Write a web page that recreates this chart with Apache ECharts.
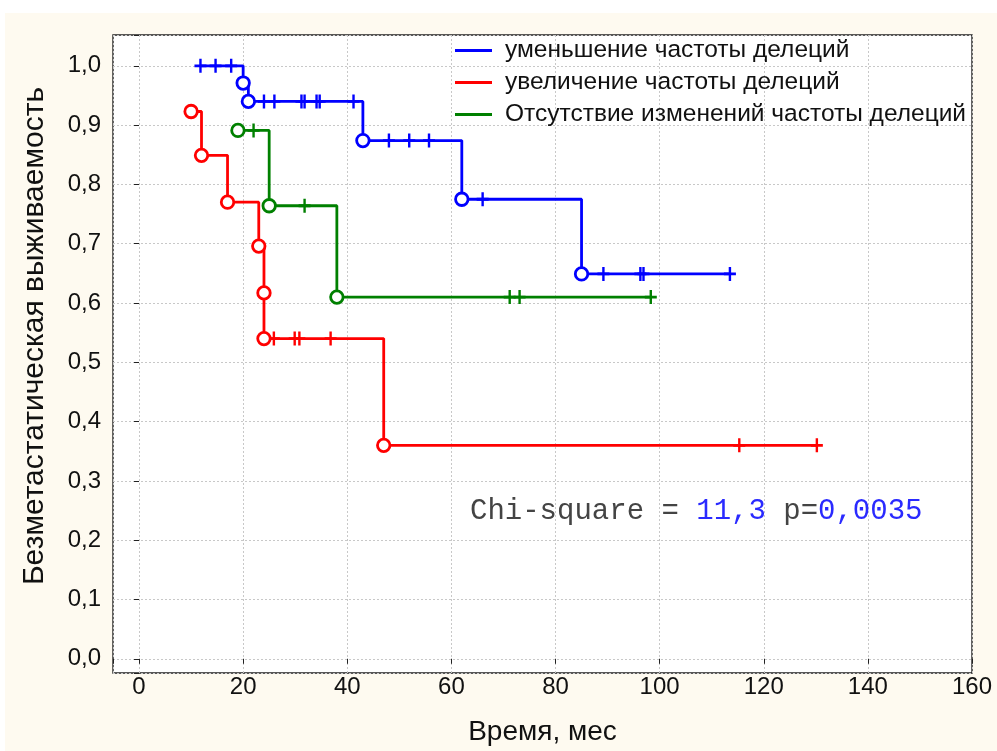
<!DOCTYPE html>
<html>
<head>
<meta charset="utf-8">
<script src="https://cdn.jsdelivr.net/npm/echarts@6/dist/echarts.min.js"></script>
<style>
html,body{margin:0;padding:0;background:#fff;}
#chart{width:997px;height:751px;}
</style>
</head>
<body>
<div id="chart"></div>
<script>
// ---- data ----
const seriesNames = ['уменьшение частоты делеций', 'увеличение частоты делеций', 'Отсутствие изменений частоты делеций'];
const seriesColors = ['#0000FF', '#FF0000', '#008000'];

// step curves [time, survival]
const blueLine = [[11.8,1.0],[20,0.971],[21,0.940],[43,0.874],[62,0.775],[85,0.649],[113.5,0.649]];
const redLine = [[10,0.923],[12,0.849],[17,0.770],[23,0.696],[24,0.617],[24,0.540],[47,0.360],[130.2,0.360]];
const greenLine = [[19,0.891],[25,0.764],[38,0.610],[98.3,0.610]];

// events (circles)
const blueEvents = [[20,0.971],[21,0.940],[43,0.874],[62,0.775],[85,0.649]];
const redEvents = [[10,0.923],[12,0.849],[17,0.770],[23,0.696],[24,0.617],[24,0.540],[47,0.360]];
const greenEvents = [[19,0.891],[25,0.764],[38,0.610]];

// censored (plus marks)
const blueCensored = [[11.8,1.0],[14.7,1.0],[17.7,1.0],
  [24,0.940],[26,0.940],[31.2,0.940],[31.8,0.940],[34.1,0.940],[34.7,0.940],[41.2,0.940],
  [48,0.874],[51.9,0.874],[55.7,0.874],
  [66,0.775],
  [89.2,0.649],[96.3,0.649],[96.9,0.649],[113.5,0.649]];
const redCensored = [[25.9,0.540],[29.9,0.540],[30.8,0.540],[36.8,0.540],[115.3,0.360],[130.2,0.360]];
const greenCensored = [[22,0.891],[31.8,0.764],[71.2,0.610],[73.1,0.610],[98.3,0.610]];

const xTitle = 'Время, мес';
const yTitle = 'Безметастатическая выживаемость';
const statLabel = 'Chi-square = ';
const chiValue = '11,3';
const pLabel = ' p=';
const pValue = '0,0035';

// ---- chart ----
const chart = echarts.init(document.getElementById('chart'), null, {renderer: 'canvas'});
const plusPath = 'path://M4,0L6,0L6,4L10,4L10,6L6,6L6,10L4,10L4,6L0,6L0,4L4,4Z';
const FONT = 'Liberation Sans, Arial, sans-serif';

const lines = [blueLine, redLine, greenLine];
const events = [blueEvents, redEvents, greenEvents];
const censored = [blueCensored, redCensored, greenCensored];

const series = [];
for (let i = 0; i < 3; i++) {
  series.push({
    name: seriesNames[i], type: 'line', step: 'end', data: lines[i],
    showSymbol: false, symbol: 'none', color: seriesColors[i],
    lineStyle: {color: seriesColors[i], width: 2.8}, z: 2, silent: true
  });
}
for (let i = 0; i < 3; i++) {
  series.push({
    name: 'c' + i, type: 'scatter', data: censored[i], symbol: plusPath, symbolSize: [12, 14],
    itemStyle: {color: seriesColors[i], opacity: 1}, z: 3, silent: true
  });
  series.push({
    name: 'e' + i, type: 'scatter', data: events[i], symbol: 'circle', symbolSize: 12.5,
    itemStyle: {color: '#fff', borderColor: seriesColors[i], borderWidth: 2.8, opacity: 1}, z: 4, silent: true
  });
}

const fmt1 = v => (Math.abs(v) < 1e-9 ? 0 : v).toFixed(1).replace('.', ',');

chart.setOption({
  animation: false,
  backgroundColor: 'transparent',
  textStyle: {fontFamily: FONT},
  graphic: [
    {type: 'rect', z: -10, shape: {x: 5, y: 13, width: 992, height: 738}, style: {fill: '#FEFAF0'}},
    {type: 'text', z: 10, left: 470, top: 497,
      style: {
        text: '{k|' + statLabel + '}{v|' + chiValue + '}{k|' + pLabel + '}{v|' + pValue + '}',
        rich: {
          k: {fontFamily: 'Liberation Mono, Courier New, monospace', fontSize: 29, fill: '#444'},
          v: {fontFamily: 'Liberation Mono, Courier New, monospace', fontSize: 29, fill: '#2a2aff'}
        }
      }}
  ],
  legend: {
    data: seriesNames, orient: 'vertical', left: 450, top: 33,
    itemWidth: 37, itemHeight: 3, itemGap: 7, icon: 'rect',
    textStyle: {fontFamily: FONT, fontSize: 24.5, lineHeight: 24, color: '#111', padding: [0, 0, 0, 8]},
    selectedMode: false
  },
  grid: {left: 113, right: 25, top: 35, bottom: 73, show: true, backgroundColor: '#fff', borderColor: '#222', borderWidth: 1.4},
  xAxis: [{
    type: 'value', min: -5, max: 160, splitNumber: 8,
    name: xTitle, nameLocation: 'middle', nameGap: 45,
    nameTextStyle: {fontFamily: FONT, fontSize: 28, color: '#111'},
    axisLine: {show: false}, axisTick: {show: false},
    axisLabel: {fontFamily: FONT, fontSize: 24, color: '#111', margin: 2, showMinLabel: false},
    splitLine: {show: true, lineStyle: {color: '#C8C8C8', type: [2, 2], width: 1}}
  }, {
    type: 'value', position: 'top', min: -5, max: 160, splitNumber: 8,
    axisLine: {show: false}, axisLabel: {show: false}, splitLine: {show: false},
    axisTick: {show: true, inside: true, length: 5, lineStyle: {color: '#222'}}
  }],
  yAxis: [{
    type: 'value', min: -0.024, max: 1.052, splitNumber: 10,
    name: yTitle, nameLocation: 'middle', nameGap: 63, nameRotate: 90,
    nameTextStyle: {fontFamily: FONT, fontSize: 30, color: '#111', padding: [0, 0, 0, 36]},
    axisLine: {show: false}, axisTick: {show: false},
    axisLabel: {fontFamily: FONT, fontSize: 24, color: '#111', margin: 12, showMinLabel: false, showMaxLabel: false, formatter: fmt1},
    splitLine: {show: true, lineStyle: {color: '#C8C8C8', type: [2, 2], width: 1}}
  }, {
    type: 'value', position: 'right', min: -0.024, max: 1.052, splitNumber: 10,
    axisLine: {show: false}, axisLabel: {show: false}, splitLine: {show: false},
    axisTick: {show: true, inside: true, length: 5, lineStyle: {color: '#222'}}
  }],
  series: series
});
</script>
</body>
</html>
